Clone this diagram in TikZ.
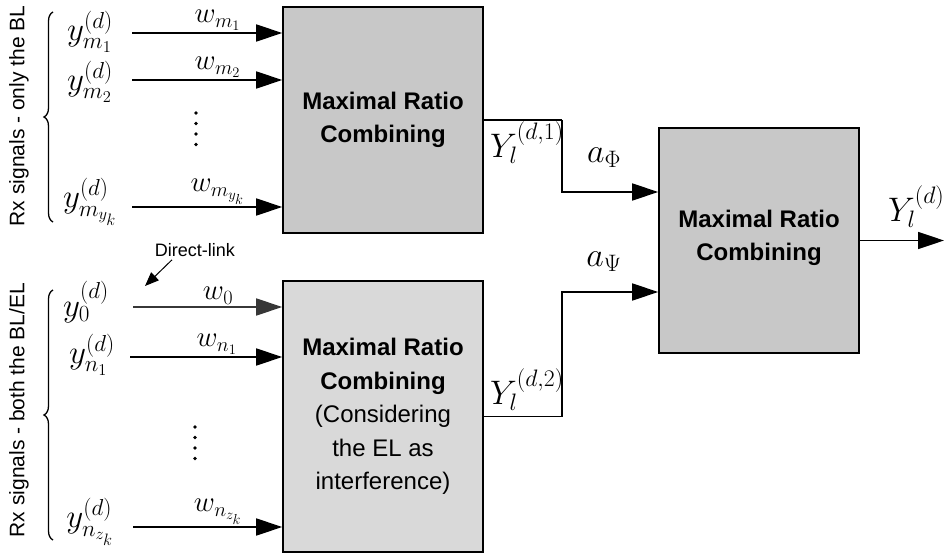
\RequirePackage{fix-cm}
\documentclass[tikz,border=0pt]{standalone}
\usepackage{fontspec}
\setmainfont{Liberation Sans}
\definecolor{boxdark}{RGB}{200, 200, 200}
\definecolor{boxlight}{RGB}{217, 217, 217}
\definecolor{wiregray}{RGB}{55, 55, 55}
\usetikzlibrary{arrows.meta, positioning, calc, decorations.pathreplacing}

\begin{document}
\begin{tikzpicture}[x=1pt, y=-1pt,
        every node/.style={align=center, inner sep=0pt},
        mrc/.style={rectangle, draw=black, line width=1.6pt, minimum width=200pt, font=\fontsize{24}{33.5}\selectfont},
        side/.style={rotate=90, font=\fontsize{21}{24}\selectfont},
        ylab/.style={font=\fontsize{33}{36}\selectfont},
        wlab/.style={above=2pt, pos=0.57, font=\fontsize{29}{32}\selectfont},
        mlab/.style={font=\fontsize{34}{37}\selectfont},
        line/.style={-{Triangle[length=26pt, width=17pt]}, line width=1.6pt},
        wire/.style={line width=1.6pt},
        pointer/.style={-{Triangle[length=14pt, width=11pt]}, line width=1pt},
        brace/.style={decorate, decoration={brace, amplitude=9pt}, line width=1.3pt}
    ]
        \useasboundingbox (0,0) rectangle (944,556);

        \node[mrc, fill=boxdark, minimum height=226pt]  (mrcA) at (383,120)   {\textbf{Maximal Ratio}\\ \textbf{Combining}};
        \node[mrc, fill=boxlight, minimum height=271pt] (mrcB) at (383,416.5) {\textbf{Maximal Ratio}\\ \textbf{Combining}\\ (Considering\\ the EL as\\ interference)};
        \node[mrc, fill=boxdark, minimum height=225pt]  (mrcC) at (759,240.5) {\textbf{Maximal Ratio}\\ \textbf{Combining}\\[-23pt]};

        \node[side] (rxA) at (19,116) {Rx signals - only the BL};
        \node[side] (rxB) at (19,410) {Rx signals - both the BL/EL};
        \draw[brace] (53,222) -- (53,12);
        \draw[brace] (53,540) -- (53,290);

        \node[ylab] (ym1)  at (90,32)  {$y_{m_1}^{(d)}$};
        \node[ylab] (ym2)  at (90,82)  {$y_{m_2}^{(d)}$};
        \node[ylab] (ymy)  at (90,202) {$y_{m_{y_k}}^{(d)}$};
        \node[ylab] (yn0)  at (86,302) {$y_{0}^{(d)}$};
        \node[ylab] (yn1)  at (92,355) {$y_{n_1}^{(d)}$};
        \node[ylab] (ynz)  at (90,522) {$y_{n_{z_k}}^{(d)}$};

        \coordinate (m1) at (132,33);
        \coordinate (m2) at (132,80);
        \coordinate (my) at (132,207);
        \coordinate (n0) at (133,307);
        \coordinate (n1) at (130,357);
        \coordinate (nz) at (133,527);

        \draw[line] (m1) -- node[wlab] (wm1) {$w_{m_1}$} (m1 -| mrcA.west);
        \draw[line] (m2) -- node[wlab] (wm2) {$w_{m_2}$} (m2 -| mrcA.west);
        \draw[line] (my) -- node[wlab] (wmy) {$w_{m_{y_k}}$} (my -| mrcA.west);
        \draw[line, wiregray] (n0) -- node[wlab, text=black] (wn0) {$w_{0}$} (n0 -| mrcB.west);
        \draw[line] (n1) -- node[wlab] (wn1) {$w_{n_1}$} (n1 -| mrcB.west);
        \draw[line] (nz) -- node[wlab] (wnz) {$w_{n_{z_k}}$} (nz -| mrcB.west);

        \foreach \yy in {113,123.5,134,144.5} \fill (196,\yy) circle (1.9pt);
        \foreach \yy in {427,437.5,448,458.5} \fill (195,\yy) circle (1.9pt);

        \node[font=\fontsize{18}{20}\selectfont] (dlink) at (195,250) {Direct-link};
        \coordinate (dlend) at (145,286);
        \draw[pointer] ([xshift=-23pt, yshift=-3pt]dlink.south) -- (dlend);

        \coordinate (jA) at (562,120);
        \coordinate (jB) at (562,416.5);
        \draw[wire] (mrcA.east) -- (jA);
        \draw[line] (jA) |- ($(mrcC.west)+(0,-48.5)$);
        \draw[wire] (mrcB.east) -- (jB);
        \draw[line] (jB) |- ($(mrcC.west)+(0,51.5)$);

        \node[mlab] (yA) at (527,143) {$Y_l^{(d,1)}$};
        \node[mlab] (yB) at (527,390) {$Y_l^{(d,2)}$};
        \node[mlab] (aP) at (604,158) {$a_{\Phi}$};
        \node[mlab] (aS) at (604,262) {$a_{\Psi}$};

        \coordinate (out) at (944,240.5);
        \draw[line] (mrcC.east) -- (out);
        \node[mlab, anchor=west] (yout) at (888,207) {$Y_l^{(d)}$};
    \end{tikzpicture}
\end{document}
